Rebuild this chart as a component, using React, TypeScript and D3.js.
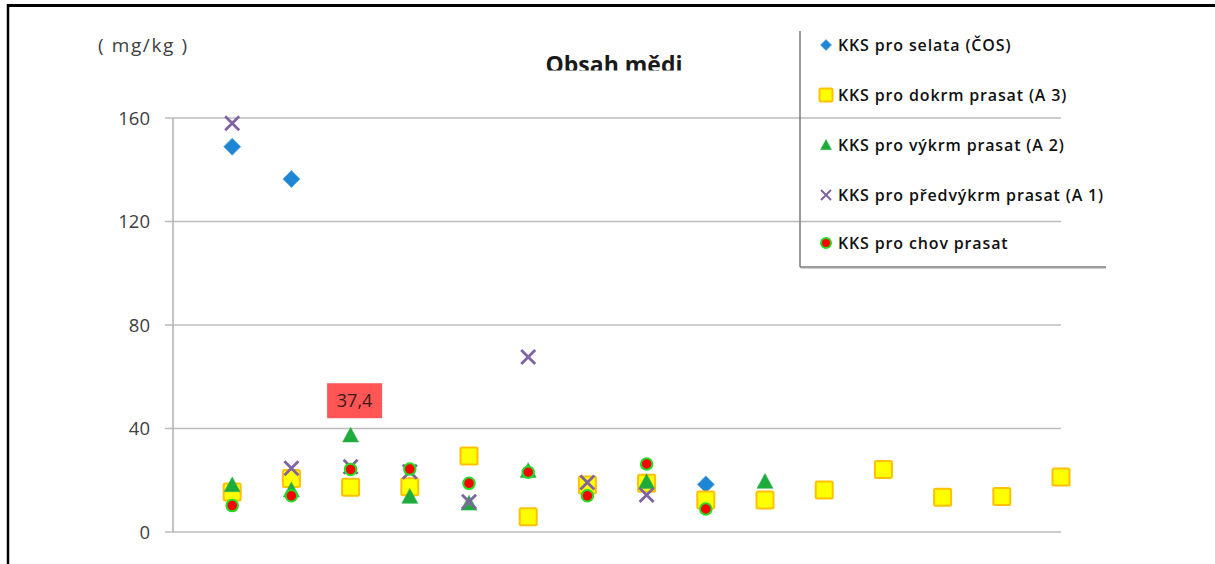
import React from "react";
import * as d3 from "d3";

const categories = [1, 2, 3, 4, 5, 6, 7, 8, 9, 10, 11, 12, 13, 14, 15];
const selata: (number | null)[] = [148.9, 136.4, null, null, null, null, null, null, 18.4];
const dokrm: (number | null)[] = [15.5, 20.7, 17.3, 17.5, 29.4, 5.9, 18.2, 18.8, 12.4, 12.4, 16.2, 24.2, 13.4, 13.7, 21.3];
const vykrm: (number | null)[] = [18.2, 16.2, 37.4, 13.7, 11.1, 23.7, null, 19.4, null, 19.5];
const predvykrm: (number | null)[] = [158, 24.6, 25.2, 23.3, 11.7, 67.6, 19.1, 14.3];
const chov: (number | null)[] = [10.2, 14.0, 24.2, 24.3, 18.8, 23.1, 14.0, 26.3, 8.9];
const yTicks = [0, 40, 80, 120, 160];
const seriesNames = [
  "KKS pro selata (ČOS)",
  "KKS pro dokrm prasat (A 3)",
  "KKS pro výkrm prasat (A 2)",
  "KKS pro předvýkrm prasat (A 1)",
  "KKS pro chov prasat",
];
const highlightLabel = "37,4";

const FONT = "'Open Sans', 'Liberation Sans', sans-serif";

type Kind = "diamond" | "square" | "triangle" | "x" | "circle";

function Marker({ kind, x, y, s }: { kind: Kind; x: number; y: number; s: number }) {
  if (kind === "diamond") {
    const h = s / 2;
    return <path d={`M${x},${y - h}L${x + h},${y}L${x},${y + h}L${x - h},${y}Z`} fill="#1f86d4" stroke="#5aa6e0" strokeWidth={0.8} />;
  }
  if (kind === "square") {
    const h = s / 2;
    return <rect x={x - h} y={y - h} width={s} height={s} fill="#ffff00" stroke="#ffc000" strokeWidth={2} rx={1.5} />;
  }
  if (kind === "triangle") {
    const h = s / 2;
    return <path d={`M${x},${y - h}L${x + h},${y + h * 0.85}L${x - h},${y + h * 0.85}Z`} fill="#1faa3c" stroke="#38b850" strokeWidth={0.6} />;
  }
  if (kind === "x") {
    const h = s / 2;
    return (
      <path d={`M${x - h},${y - h}L${x + h},${y + h}M${x + h},${y - h}L${x - h},${y + h}`} stroke="#8064a2" strokeWidth={s > 12 ? 2.8 : 2} fill="none" />
    );
  }
  return <circle cx={x} cy={y} r={s / 2} fill="#ff0000" stroke="#22dd22" strokeWidth={2} />;
}

export default function App() {
  const W = 1215;
  const H = 564;
  const x = d3.scaleLinear().domain([0, 15]).range([173, 1061]);
  const y = d3.scaleLinear().domain([0, 160]).range([532, 118]);

  const series: { data: (number | null)[]; kind: Kind; size: number; legSize: number }[] = [
    { data: selata, kind: "diamond", size: 17, legSize: 11 },
    { data: dokrm, kind: "square", size: 17, legSize: 13 },
    { data: vykrm, kind: "triangle", size: 16, legSize: 11 },
    { data: predvykrm, kind: "x", size: 14, legSize: 10 },
    { data: chov, kind: "circle", size: 11.5, legSize: 10 },
  ];

  const legendY = [45, 95, 145, 195, 243];

  return (
    <svg width={W} height={H} style={{ position: "absolute", left: 0, top: 0, background: "#fff" }} fontFamily={FONT}>
      <defs>
        <clipPath id="titleClip">
          <rect x={0} y={0} width={W} height={70.5} />
        </clipPath>
        <clipPath id="legendClip">
          <rect x={0} y={0} width={1105} height={H} />
        </clipPath>
      </defs>
      <rect x={0} y={0} width={W} height={H} fill="#fff" />
      {/* outer frame */}
      <line x1={8} y1={5.5} x2={W} y2={5.5} stroke="#000" strokeWidth={3} />
      <line x1={8} y1={4} x2={8} y2={H} stroke="#000" strokeWidth={2.5} />

      {/* gridlines */}
      {yTicks.map((t) => (
        <g key={t}>
          <line x1={165} x2={x(15)} y1={y(t)} y2={y(t)} stroke="#bcbcbc" strokeWidth={1.5} />
          <text x={150} y={y(t)} dy="0.36em" textAnchor="end" fontSize={18.5} fill="#404040">
            {t}
          </text>
        </g>
      ))}
      <line x1={173} x2={173} y1={y(160)} y2={y(0)} stroke="#b0b0b0" strokeWidth={1.5} />

      {/* y unit */}
      <text x={98} y={52} fontSize={19} letterSpacing={1.6} fill="#404040">( mg/kg )</text>

      {/* title */}
      <text x={614} y={73} textAnchor="middle" fontSize={23} fontWeight="bold" fill="#1a1a1a" clipPath="url(#titleClip)">
        Obsah mědi
      </text>

      {/* markers */}
      {series.map((s, si) => (
        <g key={si}>
          {s.data.map((v, i) =>
            v == null ? null : <Marker key={i} kind={s.kind} x={x(categories[i])} y={y(v)} s={s.size} />
          )}
        </g>
      ))}

      {/* highlight label */}
      <rect x={x(3) - 23.5} y={y(37.4) - 52} width={55} height={35} fill="#ff5555" />
      <text x={x(3) + 4} y={y(37.4) - 34.5} dy="0.36em" textAnchor="middle" fontSize={18} fill="#3a1a1a">
        {highlightLabel}
      </text>

      {/* legend */}
      <line x1={800} x2={800} y1={31} y2={267} stroke="#7a7a7a" strokeWidth={1.5} />
      <line x1={800} x2={1106} y1={267} y2={267} stroke="#7a7a7a" strokeWidth={1.5} />
      <line x1={801} x2={1106} y1={268.5} y2={268.5} stroke="#d0d0d0" strokeWidth={1} />
      {series.map((s, si) => (
        <g key={si}>
          <Marker kind={s.kind} x={826} y={legendY[si]} s={s.legSize} />
          <text x={838} y={legendY[si]} dy="0.36em" fontSize={16} fontWeight={600} letterSpacing={0.85} fill="#111" clipPath="url(#legendClip)">
            {seriesNames[si]}
          </text>
        </g>
      ))}
    </svg>
  );
}
